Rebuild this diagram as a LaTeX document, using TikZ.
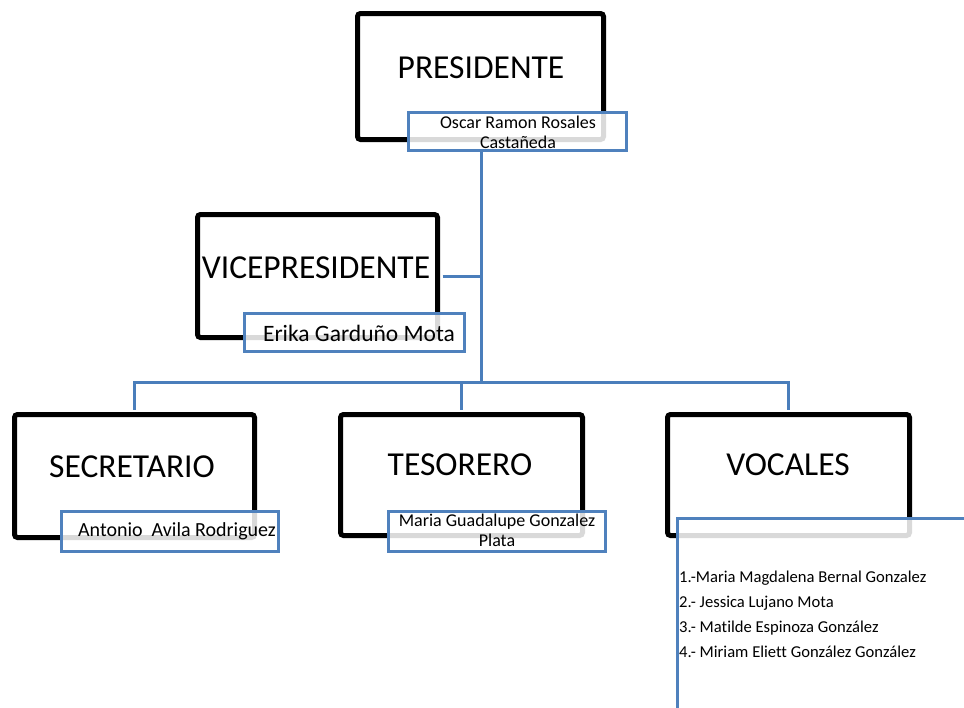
\documentclass[tikz,border=0pt]{standalone}
\usepackage{fontspec}
\setmainfont{Carlito}[Ligatures=CommonOff]
\usepackage{tikz}
\usetikzlibrary{positioning}
\definecolor{orgblue}{RGB}{79,129,189}
\definecolor{linkblue}{RGB}{74,126,187}

\begin{document}
\begin{tikzpicture}[x=1pt, y=-1pt,
    rolebox/.style={draw=black, line width=5pt, rounded corners=3pt, inner sep=0pt},
    namebox/.style={draw=orgblue, line width=3pt, fill=white, fill opacity=0.85, text opacity=1, inner sep=0pt},
    title/.style={font=\fontsize{33.5}{40}\selectfont},
    person/.style={font=\fontsize{#1}{20}\selectfont, align=center, inner sep=0pt},
    link/.style={draw=linkblue, line width=3pt}]
    \useasboundingbox (0,0) rectangle (964,707);
    \clip (0,0) rectangle (964,707);
    % cargos
    \node[rolebox, minimum width=246pt, minimum height=126pt] (pres) at (480.5,76.5) {};
    \node[rolebox, minimum width=240pt, minimum height=123pt] (vice) at (317.5,276) {};
    \node[rolebox, minimum width=240pt, minimum height=123pt] (sec) at (134.5,476) {};
    \node[rolebox, minimum width=242pt, minimum height=121pt] (tes) at (461.5,475) {};
    \node[rolebox, minimum width=242pt, minimum height=121pt] (voc) at (788.5,475) {};
    \node[title] (presT) at (481,68) {PRESIDENTE};
    \node[title] (viceT) at (316,268) {VICEPRESIDENTE};
    \node[title] (secT) at (132,467) {SECRETARIO};
    \node[title] (tesT) at (460,465) {TESORERO};
    \node[title] (vocT) at (788,465) {VOCALES};
    % nombres
    \node[namebox, minimum width=218pt, minimum height=38pt] (presN) at (517.5,131.5) {};
    \node[namebox, minimum width=220pt, minimum height=38pt] (viceN) at (354.5,332.5) {};
    \node[namebox, minimum width=217pt, minimum height=40pt] (secN) at (170,531.5) {};
    \node[namebox, minimum width=217pt, minimum height=40pt] (tesN) at (497,531.5) {};
    \node[namebox, anchor=north west, minimum width=400pt, minimum height=300pt] (vocN) at (675.5,516.5) {};
    \node[person=18] (presP) at (518,132) {Oscar Ramon Rosales\\Castañeda};
    \node[person=23.5] (viceP) at (359,333) {Erika Garduño Mota};
    \node[person=20] (secP) at (177,531) {Antonio~~Avila Rodriguez};
    \node[person=18] (tesP) at (497,530) {Maria Guadalupe Gonzalez\\Plata};
    \node[font=\fontsize{16.6}{25}\selectfont, align=left, anchor=west, inner sep=0pt] (vocP) at (679,614.5)
        {1.-Maria Magdalena Bernal Gonzalez\\2.- Jessica Lujano Mota\\3.- Matilde Espinoza González\\4.- Miriam Eliett González González};
    % lineas
    \coordinate (trunk) at (481,382);
    \draw[link] (trunk |- presN.south) -- (trunk);
    \draw[link, shorten <=2.5pt] (vice.east) -- (vice.east -| trunk);
    \draw[link, shorten <=2.5pt, shorten >=2.5pt] (sec.north) -- (sec.north |- trunk) -- (voc.north |- trunk) -- (voc.north);
    \draw[link, shorten >=2.5pt] (tes.north |- trunk) -- (tes.north);
\end{tikzpicture}
\end{document}
